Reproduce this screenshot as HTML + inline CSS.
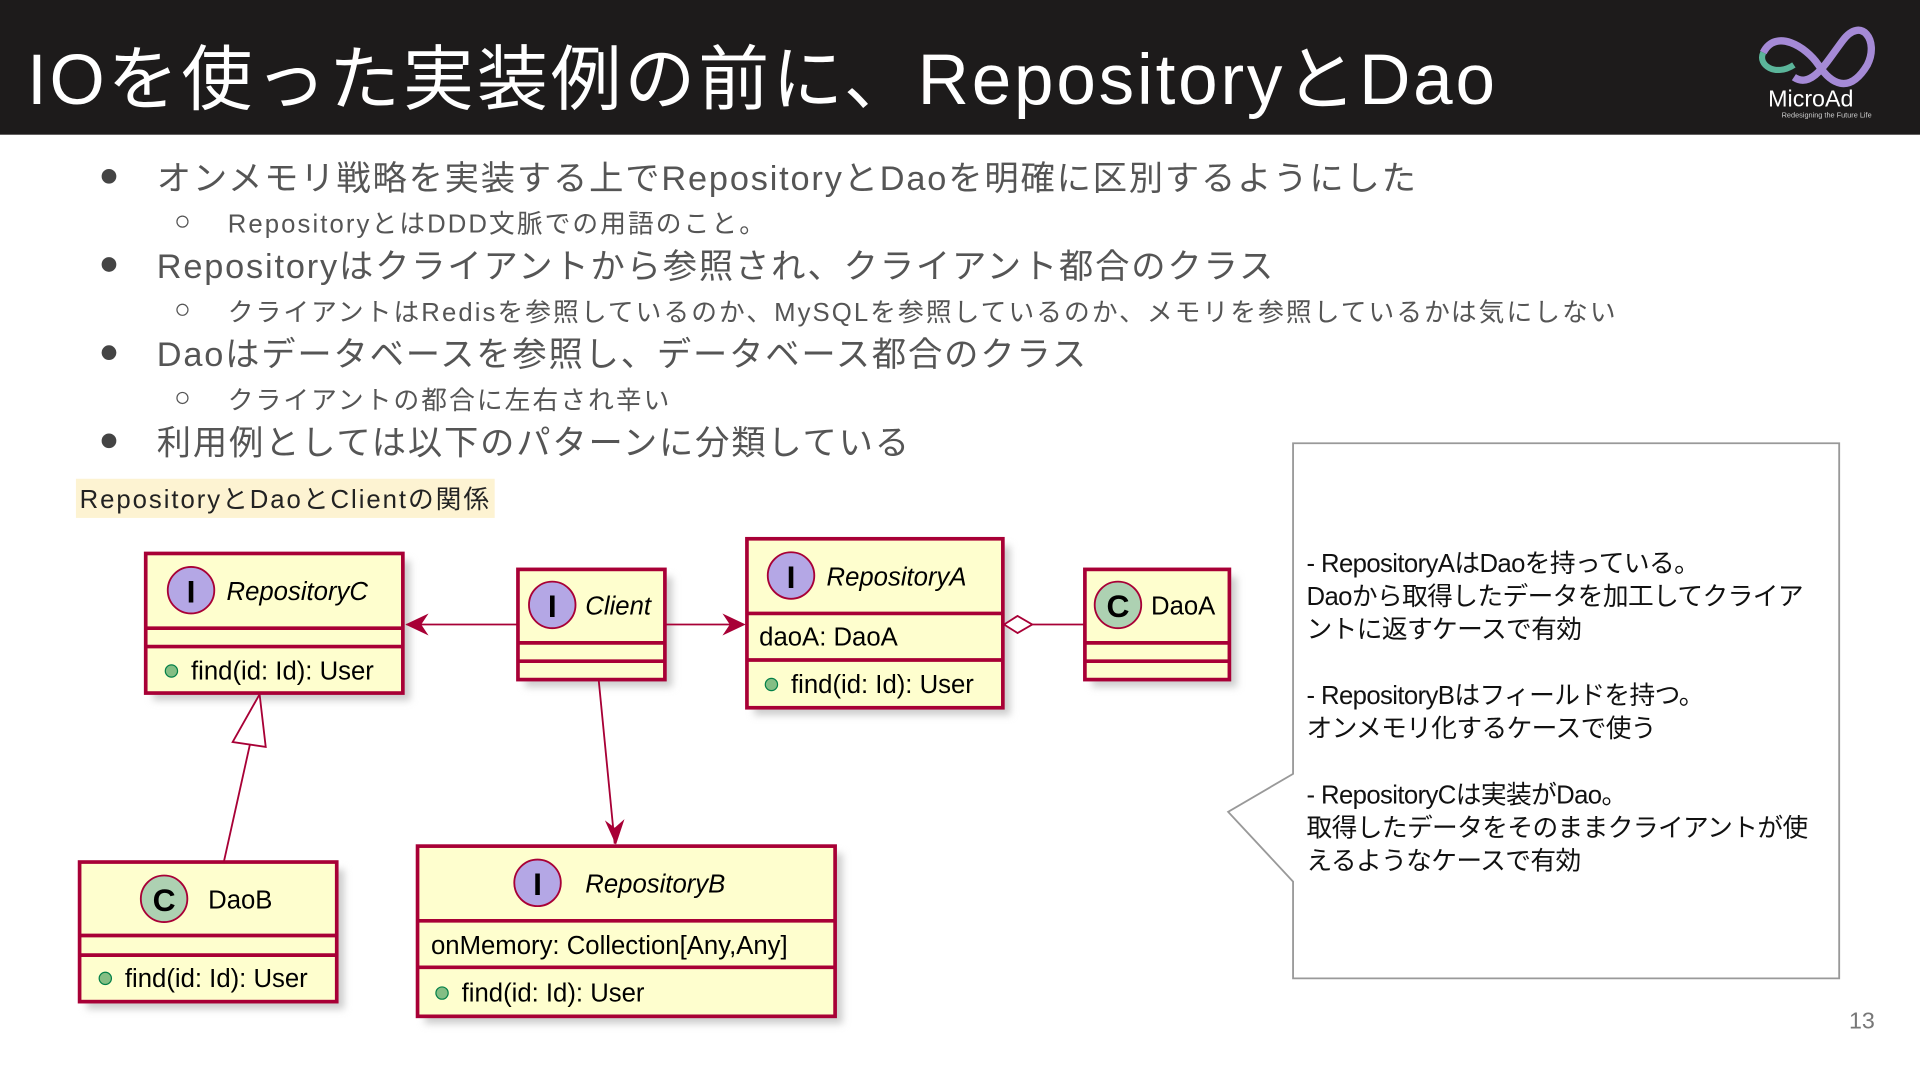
<!DOCTYPE html>
<html><head><meta charset="utf-8"><style>
html,body{margin:0;padding:0;width:1920px;height:1080px;overflow:hidden;background:#fff}
#w{position:absolute;left:0;top:0;width:1568px;height:882px;transform:scale(1.22449);transform-origin:0 0;font-family:"Liberation Sans","Noto Sans CJK JP",sans-serif}
.hd{position:absolute;left:0;top:0;width:1568px;height:110px;background:#1d1b1b}
.tt{position:absolute;left:22px;top:18px;color:#fff;font-size:58px;white-space:nowrap;letter-spacing:2.3px}
.b{position:absolute;left:128px;color:#555;font-size:28px;white-space:nowrap;letter-spacing:1.5px}
.b:before{content:"";position:absolute;left:-45px;top:14px;width:12px;height:12px;border-radius:50%;background:#444}
.s{position:absolute;left:186px;color:#555;font-size:21px;white-space:nowrap;letter-spacing:1.7px}
.s:before{content:"";position:absolute;left:-42px;top:9px;width:8px;height:8px;border-radius:50%;border:1.5px solid #555}
.n{position:absolute;left:1067px;color:#111;font-size:21px;line-height:27px;white-space:nowrap;letter-spacing:-0.5px}
</style></head><body><div id="w">
<div class="hd"></div>
<div class="tt">IOを使った実装例の前に、RepositoryとDao</div>
<svg style="position:absolute;left:1430px;top:8px" width="130" height="95" viewBox="0 0 130 95">
<path d="M10 35 C20 15,45 30,55 45 C65 60,80 70,95 45 C105 25,90 5,75 25 C62 42,50 65,35 55" fill="none" stroke="#a58ad6" stroke-width="6"/>
<path d="M10 35 C5 45,20 55,35 45" fill="none" stroke="#5bb59a" stroke-width="5"/>
<text x="14" y="79" fill="#fff" font-size="19" font-family="Liberation Sans">MicroAd</text>
<text x="25" y="88" fill="#ccc" font-size="6" font-family="Liberation Sans">Redesigning the Future Life</text>
</svg>
<div class="b" style="top:124px">オンメモリ戦略を実装する上でRepositoryとDaoを明確に区別するようにした</div>
<div class="s" style="top:167px">RepositoryとはDDD文脈での用語のこと。</div>
<div class="b" style="top:196px">Repositoryはクライアントから参照され、クライアント都合のクラス</div>
<div class="s" style="top:239px">クライアントはRedisを参照しているのか、MySQLを参照しているのか、メモリを参照しているかは気にしない</div>
<div class="b" style="top:268px">Daoはデータベースを参照し、データベース都合のクラス</div>
<div class="s" style="top:311px">クライアントの都合に左右され辛い</div>
<div class="b" style="top:340px">利用例としては以下のパターンに分類している</div>
<div style="position:absolute;left:62px;top:391px;background:#fdf3d2;color:#222;font-size:21px;padding:1px 3px;white-space:nowrap;letter-spacing:1.6px">RepositoryとDaoとClientの関係</div>

<svg style="position:absolute;left:0;top:0" width="1568" height="882" viewBox="0 0 1568 882">
<defs><filter id="sh" x="-10%" y="-10%" width="130%" height="130%"><feGaussianBlur stdDeviation="3"/></filter></defs>
<path d="M1056 362 H1502 V799 H1056 V720 L1003 663 L1056 632 Z" fill="#fff" stroke="#999" stroke-width="1.5"/>
<g fill="#ccc" filter="url(#sh)">
<rect x="125" y="458" width="210" height="114"/><rect x="429" y="471" width="120" height="90"/>
<rect x="616" y="446" width="209" height="138"/><rect x="892" y="471" width="118" height="90"/>
<rect x="71" y="710" width="210" height="114"/><rect x="347" y="697" width="341" height="139"/>
</g>
<g fill="#fefece" stroke="#a80036" stroke-width="3">
<rect x="119" y="452" width="210" height="114"/><path d="M119 513H329M119 528H329"/>
<rect x="423" y="465" width="120" height="90"/><path d="M423 525H543M423 540H543"/>
<rect x="610" y="440" width="209" height="138"/><path d="M610 501H819M610 539H819"/>
<rect x="886" y="465" width="118" height="90"/><path d="M886 525H1004M886 540H1004"/>
<rect x="65" y="704" width="210" height="114"/><path d="M65 764H275M65 780H275"/>
<rect x="341" y="691" width="341" height="139"/><path d="M341 752H682M341 790H682"/>
</g>
<g stroke="#a80036" stroke-width="1.5">
<circle cx="156" cy="482" r="19" fill="#b4a7e5"/><circle cx="451" cy="494" r="19" fill="#b4a7e5"/>
<circle cx="646" cy="470" r="19" fill="#b4a7e5"/><circle cx="913" cy="494" r="19" fill="#add1b2"/>
<circle cx="134" cy="734" r="19" fill="#add1b2"/><circle cx="439" cy="721" r="19" fill="#b4a7e5"/>
</g>
<g font-family="Liberation Sans" font-weight="bold" font-size="26" text-anchor="middle" fill="#000">
<text x="156" y="492">I</text><text x="451" y="504">I</text><text x="646" y="480">I</text>
<text x="913" y="504">C</text><text x="134" y="744">C</text><text x="439" y="731">I</text>
</g>
<g font-family="Liberation Sans" font-size="21" fill="#000">
<text x="185" y="490" font-style="italic">RepositoryC</text>
<text x="478" y="502" font-style="italic">Client</text>
<text x="675" y="478" font-style="italic">RepositoryA</text>
<text x="940" y="502">DaoA</text>
<text x="170" y="742">DaoB</text>
<text x="478" y="729" font-style="italic">RepositoryB</text>
<text x="620" y="527">daoA: DaoA</text>
<text x="352" y="779">onMemory: Collection[Any,Any]</text>
<text x="156" y="555">find(id: Id): User</text>
<text x="646" y="566">find(id: Id): User</text>
<text x="102" y="806">find(id: Id): User</text>
<text x="377" y="818">find(id: Id): User</text>
</g>
<g fill="#84be84" stroke="#038048" stroke-width="1"><circle cx="140" cy="548" r="5"/><circle cx="630" cy="559" r="5"/><circle cx="86" cy="799" r="5"/><circle cx="361" cy="811" r="5"/></g>
<g stroke="#a80036" stroke-width="1.5" fill="none">
<path d="M423 510H332"/><path d="M543 510H607"/><path d="M843 510H886"/>
<path d="M489 556L502 689"/><path d="M183 703L205 604"/>
</g>
<g fill="#a80036">
<path d="M331 510L350 501L344 510L350 519Z"/><path d="M609 510L590 501L596 510L590 519Z"/>
<path d="M503 690L494 670L502 676L510 669Z"/>
</g>
<path d="M820 510L831 503L843 510L831 517Z" fill="#fff" stroke="#a80036" stroke-width="1.5"/>
<path d="M212 567L190 606L217 610Z" fill="#fff" stroke="#a80036" stroke-width="1.5"/>
<text x="1510" y="840" fill="#777" font-size="19" font-family="Liberation Sans">13</text>
</svg>
<div class="n" style="top:447px">- RepositoryAはDaoを持っている。<br>Daoから取得したデータを加工してクライア<br>ントに返すケースで有効</div>
<div class="n" style="top:555px">- RepositoryBはフィールドを持つ。<br>オンメモリ化するケースで使う</div>
<div class="n" style="top:636px">- RepositoryCは実装がDao。<br>取得したデータをそのままクライアントが使<br>えるようなケースで有効</div>
</div></body></html>
